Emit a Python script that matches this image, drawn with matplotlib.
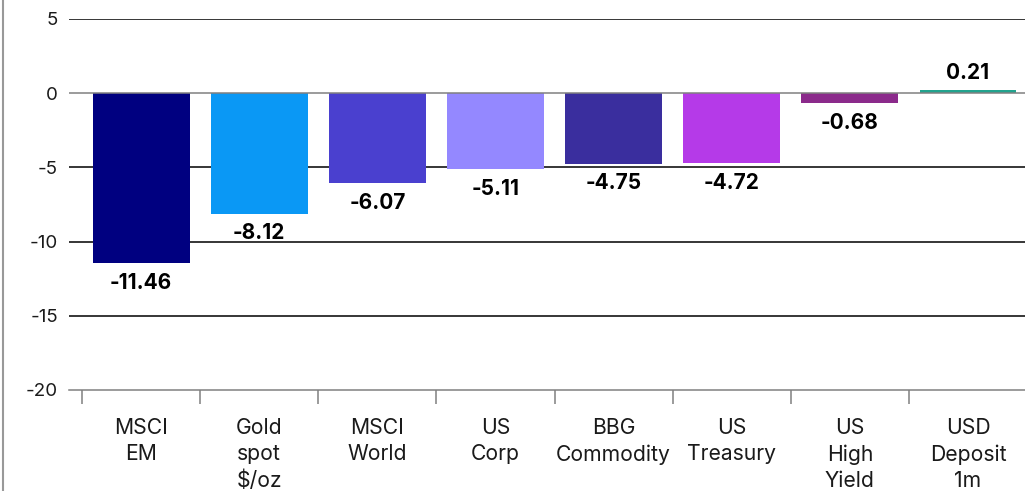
import matplotlib.pyplot as plt
from matplotlib.lines import Line2D

categories = ["MSCI\nEM", "Gold\nspot\n$/oz", "MSCI\nWorld", "US\nCorp",
              "BBG\nCommodity", "US\nTreasury", "US\nHigh\nYield", "USD\nDeposit\n1m"]
values = [-11.46, -8.12, -6.07, -5.11, -4.75, -4.72, -0.68, 0.21]
colors = ["#000080", "#0A98F5", "#4A40CF", "#9488FF",
          "#3A2E9E", "#B53AE8", "#8B2A8B", "#22A38E"]
yticks = [5, 0, -5, -10, -15, -20]

plt.rcParams["font.family"] = ["Inter", "DejaVu Sans"]

fig = plt.figure(figsize=(10.25, 4.91), dpi=100)
ax = fig.add_axes([69 / 1025, 1 - 390 / 491, (1027 - 69) / 1025, (390 - 18.75) / 491])

x = list(range(len(categories)))
ax.bar(x, values, width=0.82, color=colors, zorder=2)

ax.set_ylim(-20, 5)
ax.set_xlim(-0.5 - 13 / 118, 7.5)

# gridlines: black, zero line gray
for y in yticks:
    if y == -20:
        continue
    ax.axhline(y, color="#808080" if y == 0 else "black", lw=1.1, zorder=3 if y == 0 else 1)

for sp in ["top", "right", "left"]:
    ax.spines[sp].set_visible(False)
ax.spines["bottom"].set_color("#808080")
ax.spines["bottom"].set_linewidth(1.1)

ax.set_yticks(yticks)
ax.set_yticklabels([str(t) for t in yticks], fontsize=13.5)
ax.tick_params(axis="y", length=0, pad=8, labelcolor="#1a1a1a")

# category ticks sit between the bars
ax.set_xticks([i - 0.5 for i in x], minor=False)
ax.set_xticklabels([])
ax.tick_params(axis="x", which="major", direction="out", length=10, color="#808080", width=1.1)
ax.set_xticks(x, minor=True)
ax.set_xticklabels(categories, minor=True, fontsize=15.2, linespacing=1.4)
ax.tick_params(axis="x", which="minor", length=0, pad=20, labelcolor="#1a1a1a")

for i, v in enumerate(values):
    if v < 0:
        ax.annotate(f"{v:.2f}", (i, v), xytext=(0, -7), textcoords="offset points",
                    ha="center", va="top", fontsize=15, fontweight="bold")
    else:
        ax.annotate(f"{v:.2f}", (i, v), xytext=(0, 5), textcoords="offset points",
                    ha="center", va="bottom", fontsize=15, fontweight="bold")

fig.add_artist(Line2D([3 / 1025, 3 / 1025], [0, 1], color="#999999", lw=1.5))

fig.savefig("out.png", dpi=100)
